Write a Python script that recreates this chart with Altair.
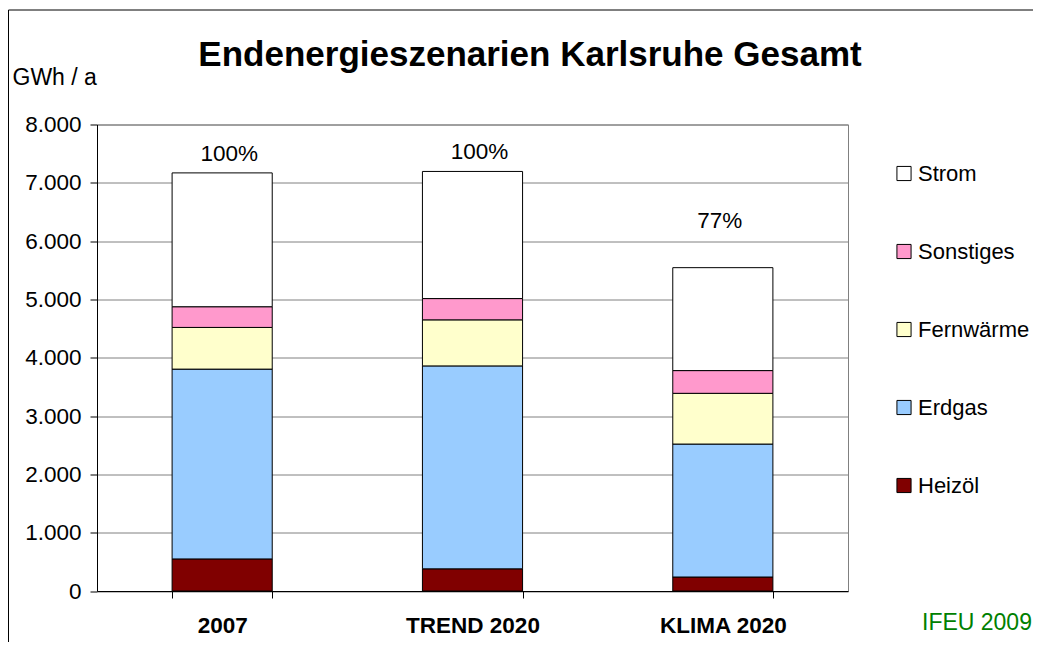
import altair as alt
import pandas as pd

# ---- data ----
scenarios = ["2007", "TREND 2020", "KLIMA 2020"]
carriers = ["Heizöl", "Erdgas", "Fernwärme", "Sonstiges", "Strom"]  # bottom -> top
heizoel = [550, 380, 240]
erdgas = [3255, 3480, 2280]
fernwaerme = [715, 790, 870]
sonstiges = [355, 365, 390]
strom = [2295, 2180, 1765]
percent_labels = ["100%", "100%", "77%"]

legend_order = ["Strom", "Sonstiges", "Fernwärme", "Erdgas", "Heizöl"]
legend_colors = ["#FFFFFF", "#FF99CC", "#FFFFCC", "#99CCFF", "#800000"]
y_ticks = [0, 1000, 2000, 3000, 4000, 5000, 6000, 7000, 8000]

series = [heizoel, erdgas, fernwaerme, sonstiges, strom]
rows = []
for ci, (name, vals) in enumerate(zip(carriers, series)):
    for si, sc in enumerate(scenarios):
        rows.append({"Szenario": sc, "Träger": name, "Wert": vals[si], "Stapel": ci})
df = pd.DataFrame(rows)

totals = [sum(s[i] for s in series) for i in range(len(scenarios))]
df_pct = pd.DataFrame({"Szenario": scenarios, "Summe": totals, "Label": percent_labels})

FONT = "Liberation Sans"
FS = 22.5

x_enc = alt.X(
    "Szenario:N",
    sort=scenarios,
    scale=alt.Scale(paddingInner=0.6, paddingOuter=0.3),
    axis=alt.Axis(
        title=None,
        labelAngle=0,
        labelFont=FONT,
        labelFontSize=FS,
        labelFontWeight="bold",
        labelColor="black",
        labelPadding=16,
        tickBand="extent",
        tickSize=7,
        tickColor="black",
        domainColor="black",
        grid=False,
    ),
)

y_scale = alt.Scale(domain=[0, 8000], nice=False)

bars = (
    alt.Chart(df)
    .mark_bar(stroke="black", strokeWidth=1)
    .encode(
        x=x_enc,
        y=alt.Y(
            "sum(Wert):Q",
            stack="zero",
            scale=y_scale,
            axis=alt.Axis(
                values=y_ticks,
                labelExpr="replace(format(datum.value, ','), ',', '.')",
                labelFont=FONT,
                labelFontSize=FS,
                labelColor="black",
                labelPadding=9,
                tickSize=7,
                tickColor="black",
                domainColor="black",
                gridColor="#808080",
                gridWidth=1,
                title="GWh / a",
                titleAngle=0,
                titleFont=FONT,
                titleFontSize=23,
                titleFontWeight="normal",
                titleColor="black",
                titleAlign="left",
                titleBaseline="middle",
                titleX=-85,
                titleY=-47,
            ),
        ),
        color=alt.Color(
            "Träger:N",
            scale=alt.Scale(domain=legend_order, range=legend_colors),
            legend=alt.Legend(
                title=None,
                orient="none",
                legendX=796,
                legendY=38,
                symbolType="square",
                symbolSize=200,
                symbolStrokeColor="black",
                symbolStrokeWidth=1,
                labelFont=FONT,
                labelFontSize=22,
                labelColor="black",
                labelOffset=3,
                rowPadding=56,
                padding=0,
            ),
        ),
        order=alt.Order("Stapel:Q", sort="ascending"),
    )
)

pct_common = dict(font=FONT, fontSize=FS, color="black", baseline="middle", align="center")

pct_high = (
    alt.Chart(df_pct)
    .transform_filter(alt.datum.Label == "100%")
    .mark_text(dy=-19, dx=7, **pct_common)
    .encode(x=alt.X("Szenario:N", sort=scenarios), y=alt.Y("Summe:Q", scale=y_scale), text="Label:N")
)
pct_low = (
    alt.Chart(df_pct)
    .transform_filter(alt.datum.Label != "100%")
    .mark_text(dy=-47, dx=-3, **pct_common)
    .encode(x=alt.X("Szenario:N", sort=scenarios), y=alt.Y("Summe:Q", scale=y_scale), text="Label:N")
)

title_txt = (
    alt.Chart(pd.DataFrame({"t": ["Endenergieszenarien Karlsruhe Gesamt"]}))
    .mark_text(font=FONT, fontSize=35, fontWeight="bold", color="black", align="center", baseline="middle")
    .encode(text="t:N", x=alt.value(433), y=alt.value(-70))
)

source_txt = (
    alt.Chart(pd.DataFrame({"t": ["IFEU 2009"]}))
    .mark_text(font=FONT, fontSize=23, color="#008000", align="left", baseline="middle")
    .encode(text="t:N", x=alt.value(825), y=alt.value(498))
)

frame = (
    alt.Chart(pd.DataFrame({"t": [0]}))
    .mark_rect(fill="transparent", stroke="black", strokeWidth=1)
    .encode(x=alt.value(-88.5), x2=alt.value(1100), y=alt.value(-114.5), y2=alt.value(700))
)

chart = (
    alt.layer(bars, pct_high, pct_low, title_txt, source_txt, frame)
    .properties(
        width=751,
        height=466.5,
        autosize=alt.AutoSizeParams(type="none"),
        padding={"left": 89, "top": 116.5, "right": 185, "bottom": 51},
        background="white",
    )
    .configure_view(stroke="#808080", strokeWidth=1)
)

chart.save("out.html", embed_options={"renderer": "svg", "actions": False})
